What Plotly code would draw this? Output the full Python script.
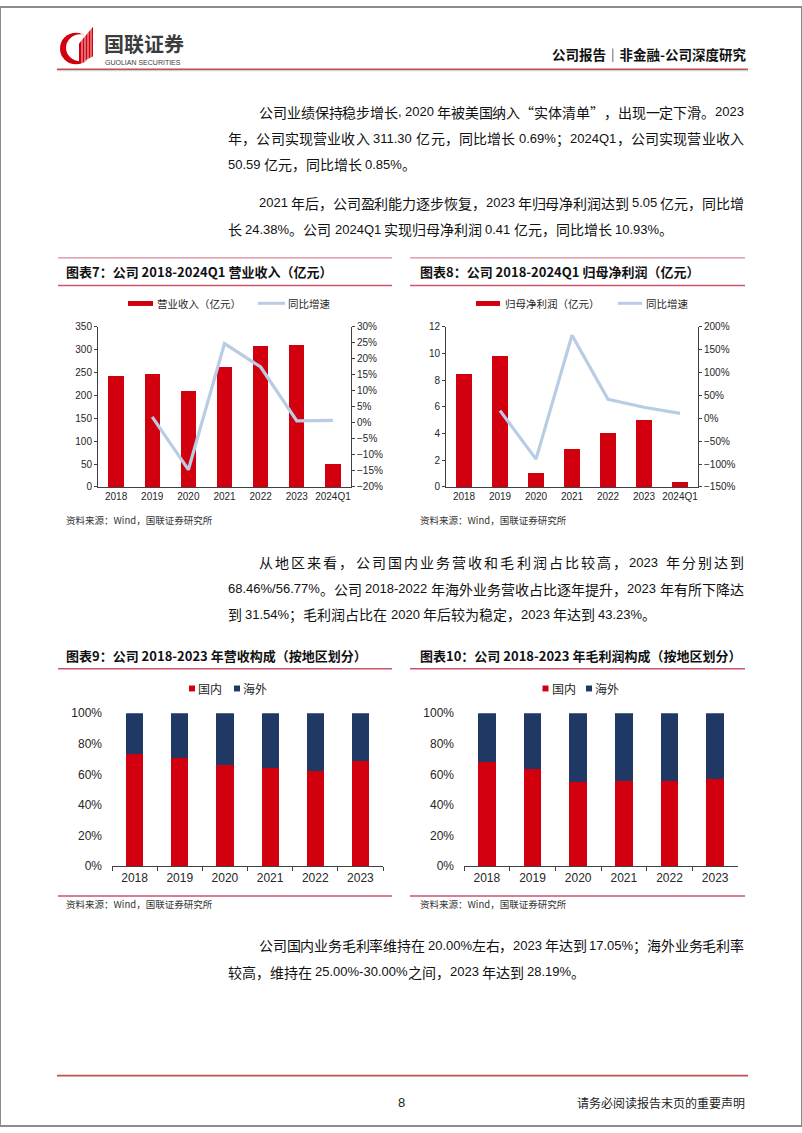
import plotly.graph_objects as go

W, H = 802, 1133
def X(px): return px / W
def Y(py): return 1 - py / H

CJK = "Noto Sans CJK SC"
LAT = "Liberation Sans"
RED = "#d2000f"
NAVY = "#1f3864"
LBLUE = "#b8cde4"
RULE = "#c9546c"
AXIS = "#404040"
TXT = "#111111"

# ---------------- data ----------------
years_q = ["2018", "2019", "2020", "2021", "2022", "2023", "2024Q1"]
revenue = [243.0, 247.0, 211.0, 263.0, 309.0, 311.30, 50.59]          # 亿元
revenue_yoy = [None, 0.019, -0.146, 0.248, 0.175, 0.0069, 0.0085]
net_profit = [8.45, 9.80, 1.03, 2.88, 4.06, 5.05, 0.41]               # 亿元
net_profit_yoy = [None, 0.17, -0.89, 1.82, 0.42, 0.2438, 0.1093]

years = ["2018", "2019", "2020", "2021", "2022", "2023"]
rev_domestic = [0.73, 0.71, 0.66, 0.64, 0.62, 0.6846]
rev_overseas = [0.27, 0.29, 0.34, 0.36, 0.38, 0.3154]
gp_domestic = [0.68, 0.635, 0.55, 0.555, 0.557, 0.5677]
gp_overseas = [0.32, 0.365, 0.45, 0.445, 0.443, 0.4323]

titles = ["图表7：公司 2018-2024Q1 营业收入（亿元）",
          "图表8：公司 2018-2024Q1 归母净利润（亿元）",
          "图表9：公司 2018-2023 年营收构成（按地区划分）",
          "图表10：公司 2018-2023 年毛利润构成（按地区划分）"]
source = "资料来源：Wind，国联证券研究所"

fig = go.Figure()
fig.add_bar(x=years_q, y=revenue, name="营业收入（亿元）", marker=dict(color=RED, line=dict(width=0)),
            width=0.42, xaxis="x", yaxis="y")
fig.add_scatter(x=years_q, y=revenue_yoy, name="同比增速", mode="lines",
                line=dict(color=LBLUE, width=3.2), xaxis="x", yaxis="y2")
fig.add_bar(x=years_q, y=net_profit, name="归母净利润（亿元）", marker=dict(color=RED, line=dict(width=0)),
            width=0.42, xaxis="x2", yaxis="y3")
fig.add_scatter(x=years_q, y=net_profit_yoy, name="同比增速", mode="lines",
                line=dict(color=LBLUE, width=3.2), xaxis="x2", yaxis="y4")
fig.add_bar(x=years, y=rev_domestic, name="国内", marker=dict(color=RED, line=dict(width=0)),
            width=0.38, xaxis="x3", yaxis="y5")
fig.add_bar(x=years, y=rev_overseas, name="海外", marker=dict(color=NAVY, line=dict(width=0)),
            width=0.38, xaxis="x3", yaxis="y5")
fig.add_bar(x=years, y=gp_domestic, name="国内", marker=dict(color=RED, line=dict(width=0)),
            width=0.38, xaxis="x4", yaxis="y6")
fig.add_bar(x=years, y=gp_overseas, name="海外", marker=dict(color=NAVY, line=dict(width=0)),
            width=0.38, xaxis="x4", yaxis="y6")

def xcat(dom, anchor, size, ticks):
    return dict(domain=dom, anchor=anchor, type="category", showline=True, linecolor=AXIS, linewidth=1,
                ticks="outside" if ticks else "", tickson="boundaries", ticklen=4, tickcolor=AXIS,
                tickfont=dict(family=LAT, size=size, color="#262626"), showgrid=False, zeroline=False,
                fixedrange=True)

def yax(dom, anchor, rng, dtick, fmt=None, side="left", overlay=None, line=True, size=10, standoff=None):
    d = dict(anchor=anchor, range=rng, dtick=dtick, side=side, showline=line, linecolor=AXIS, linewidth=1,
             ticks="outside" if line else "", ticklen=3, tickcolor=AXIS,
             tickfont=dict(family=LAT, size=size, color="#262626"), showgrid=False, zeroline=False,
             fixedrange=True)
    if dom is not None:
        d["domain"] = dom
    if fmt:
        d["tickformat"] = fmt
    if overlay:
        d["overlaying"] = overlay
    if standoff is not None:
        d["ticklabelstandoff"] = standoff
    return d

top_dom = [Y(486), Y(324)]
bot_dom = [Y(870), Y(715)]

layout = dict(
    width=W, height=H, margin=dict(l=0, r=0, t=0, b=0), paper_bgcolor="white", plot_bgcolor="white",
    showlegend=False, barmode="stack",
    xaxis=xcat([X(98), X(351)], "y", 10, False),
    yaxis=yax(top_dom, "x", [0, 350], 50),
    yaxis2=yax(None, "x", [-0.2, 0.3], 0.05, ".0%", side="right", overlay="y"),
    xaxis2=xcat([X(446), X(698)], "y3", 10, False),
    yaxis3=yax(top_dom, "x2", [0, 12], 2),
    yaxis4=yax(None, "x2", [-1.5, 2.0], 0.5, ".0%", side="right", overlay="y3"),
    xaxis3=xcat([X(112), X(383)], "y5", 12, True),
    yaxis5=yax(bot_dom, "x3", [0, 1], 0.2, ".0%", line=False, size=12, standoff=9),
    xaxis4=xcat([X(464), X(738)], "y6", 12, True),
    yaxis6=yax(bot_dom, "x4", [0, 1], 0.2, ".0%", line=False, size=12, standoff=9),
)

shapes = []
anns = []

def hline(x0, x1, y, color, width):
    shapes.append(dict(type="line", xref="paper", yref="paper", x0=X(x0), x1=X(x1), y0=Y(y), y1=Y(y),
                       line=dict(color=color, width=width)))

def rect(x0, x1, y0, y1, color):
    shapes.append(dict(type="rect", xref="paper", yref="paper", x0=X(x0), x1=X(x1), y0=Y(y1), y1=Y(y0),
                       fillcolor=color, line=dict(width=0)))

def text(s, x, y, size, family=CJK, color=TXT, anchor="left", weight="normal"):
    anns.append(dict(text=s, x=X(x), y=Y(y), xref="paper", yref="paper", showarrow=False,
                     xanchor=anchor, yanchor="middle", borderpad=0, borderwidth=0,
                     font=dict(family=family, size=size, color=color, weight=weight)))

# ---------------- page frame, header, footer ----------------
shapes.append(dict(type="rect", xref="paper", yref="paper", x0=0, x1=1, y0=0, y1=1,
                   line=dict(color="#8c8c8c", width=2)))
# logo
shapes.append(dict(type="circle", xref="paper", yref="paper", x0=X(60), x1=X(92), y0=Y(58), y1=Y(26),
                   fillcolor=RED, line=dict(width=0)))
shapes.append(dict(type="circle", xref="paper", yref="paper", x0=X(66), x1=X(95), y0=Y(55), y1=Y(27.5),
                   fillcolor="white", line=dict(width=0)))
path = f"M {X(79)},{Y(57)} L {X(79)},{Y(37)} L {X(93)},{Y(20)} L {X(93)},{Y(50)} Z"
shapes.append(dict(type="path", xref="paper", yref="paper", path=path, fillcolor=RED, line=dict(width=0)))
for sx in [82, 85, 88, 91]:
    shapes.append(dict(type="line", xref="paper", yref="paper", x0=X(sx), x1=X(sx), y0=Y(58), y1=Y(19),
                       line=dict(color="white", width=0.8)))
text("国联证券", 104, 37, 20, weight="bold", color="#3c3c3c")
text("GUOLIAN SECURITIES", 105, 56.5, 7, family=LAT, color="#3c3c3c")
text("公司报告｜非金融-公司深度研究", 746, 48, 13.5, weight="bold", anchor="right", color="#111")
hline(57, 748, 64.5, "#c8c8c8", 1)
hline(57, 748, 63, "#c0504d", 1.6)
# footer
hline(57, 748, 1082, "#c0504d", 1.6)
text("8", 401, 1109, 13, family=LAT, anchor="center", color="#222")
text("请务必阅读报告末页的重要声明", 745, 1109, 12, anchor="right", color="#222")

# ---------------- body text (justified) ----------------
AW = {str(d): 0.556 for d in range(10)}
AW.update({".": 0.278, ",": 0.278, "%": 0.889, "-": 0.333, "/": 0.278, "Q": 0.778})
CJK_FS, LAT_FS = 14, 13

def tokenize(s):
    toks, run = [], ""
    for c in s:
        if c == " ":
            if run:
                toks.append(("L", run)); run = ""
            toks.append(("S", " "))
        elif ord(c) < 128:
            run += c
        else:
            if run:
                toks.append(("L", run)); run = ""
            toks.append(("C", c))
    if run:
        toks.append(("L", run))
    return toks

def tw(kind, t):
    if kind == "C":
        return CJK_FS
    if kind == "S":
        return 0.25 * LAT_FS
    return sum(AW.get(c, 0.6) for c in t) * LAT_FS

def line(s, x0, y, x1=None):
    toks = tokenize(s)
    ws = [tw(k, t) for k, t in toks]
    gap = 0.0
    if x1 is not None and len(toks) > 1:
        gap = (x1 - x0 - sum(ws)) / (len(toks) - 1)
    x = x0
    for (k, t), w in zip(toks, ws):
        if k == "C":
            text(t, x, y, CJK_FS, family=CJK)
        elif k == "L":
            text(t, x, y, LAT_FS, family=LAT)
        x += w + gap

R = 744
line("公司业绩保持稳步增长, 2020 年被美国纳入“实体清单”，出现一定下滑。2023", 259, 106, R)
line("年，公司实现营业收入 311.30 亿元，同比增长 0.69%；2024Q1，公司实现营业收入", 228, 133, R)
line("50.59 亿元，同比增长 0.85%。", 228, 159)
line("2021 年后，公司盈利能力逐步恢复，2023 年归母净利润达到 5.05 亿元，同比增", 259, 198, R)
line("长 24.38%。公司 2024Q1 实现归母净利润 0.41 亿元，同比增长 10.93%。", 228, 225)
line("从地区来看，公司国内业务营收和毛利润占比较高，2023 年分别达到", 259, 562, R)
line("68.46%/56.77%。公司 2018-2022 年海外业务营收占比逐年提升，2023 年有所下降达", 228, 589, R)
line("到 31.54%；毛利润占比在 2020 年后较为稳定，2023 年达到 43.23%。", 228, 615)
line("公司国内业务毛利率维持在 20.00%左右，2023 年达到 17.05%；海外业务毛利率", 259, 950, R)
line("较高，维持在 25.00%-30.00%之间，2023 年达到 28.19%。", 228, 977)

# ---------------- chart frames ----------------
# chart 7 / 8
hline(58, 392, 254, "#d98a9a", 1.2)
hline(410, 745, 254, "#d98a9a", 1.2)
text(titles[0], 66, 268, 13, weight="bold", color="#111")
text(titles[1], 420, 268, 13, weight="bold", color="#111")
hline(58, 392, 282, RULE, 1.5)
hline(410, 745, 282, RULE, 1.5)
text(source, 66, 519, 9.5, color="#333")
text(source, 420, 519, 9.5, color="#333")
# chart 9 / 10
text(titles[2], 66, 657, 13, weight="bold", color="#111")
text(titles[3], 420, 657, 13, weight="bold", color="#111")
hline(58, 392, 670, RULE, 1.5)
hline(410, 745, 670, RULE, 1.5)
hline(58, 392, 900, RULE, 1.5)
hline(410, 745, 900, RULE, 1.5)
text(source, 66, 908, 9.5, color="#333")
text(source, 420, 908, 9.5, color="#333")

# ---------------- manual legends ----------------
rect(128, 153, 297.7, 302.7, RED)
text("营业收入（亿元）", 157, 300, 10.5, color="#262626")
hline(258, 285, 300, LBLUE, 3)
text("同比增速", 288, 300, 10.5, color="#262626")

rect(476, 500, 297.7, 302.7, RED)
text("归母净利润（亿元）", 505, 300, 10.5, color="#262626")
hline(618, 642, 300, LBLUE, 3)
text("同比增速", 646, 300, 10.5, color="#262626")

rect(189, 195, 687, 693, RED)
text("国内", 197.5, 690, 12, color="#262626")
rect(234, 240, 687, 693, NAVY)
text("海外", 242.5, 690, 12, color="#262626")

rect(542.5, 548.5, 687, 693, RED)
text("国内", 551.5, 690, 12, color="#262626")
rect(586, 592, 687, 693, NAVY)
text("海外", 595, 690, 12, color="#262626")

layout["shapes"] = shapes
layout["annotations"] = anns
fig.update_layout(**layout)
fig.write_html("out.html")
